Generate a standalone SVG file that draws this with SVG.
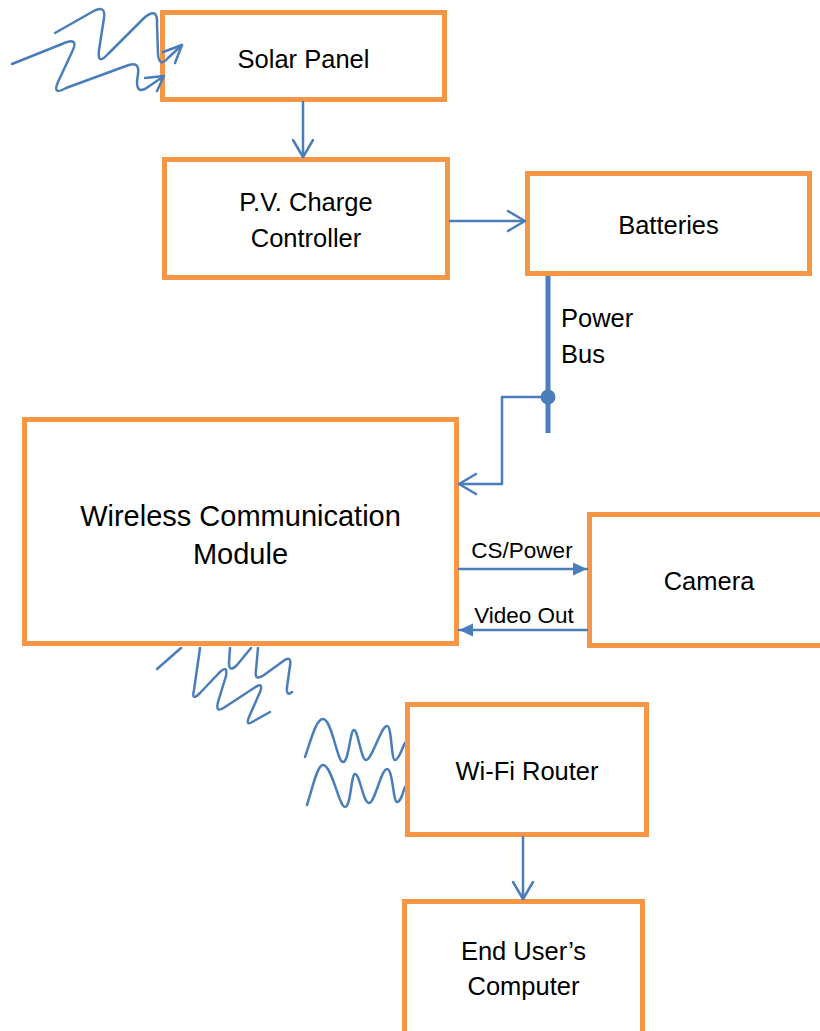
<svg xmlns="http://www.w3.org/2000/svg" width="820" height="1031" viewBox="0 0 820 1031">
  <defs>
    <style>
      .box { fill: #FFFFFF; stroke: #F79646; stroke-width: 5; }
      .lbl { font-family: "Liberation Sans", Arial, sans-serif; font-size: 25.5px; fill: #000000; text-anchor: middle; }
      .big { font-size: 29px; }
      .small { font-size: 22.5px; }
      .start { text-anchor: start; }
      .wire { fill: none; stroke: #4A7EBB; stroke-width: 2.5; stroke-linecap: round; stroke-linejoin: round; }
      .bus { fill: none; stroke: #4A7EBB; stroke-width: 5; }
    </style>
    <marker id="open" markerUnits="userSpaceOnUse" viewBox="-20 -12 22 24" refX="0" refY="0" markerWidth="22" markerHeight="24" orient="auto" overflow="visible">
      <path d="M-17,-10 L0,0 L-17,10" fill="none" stroke="#4A7EBB" stroke-width="2.5" stroke-linecap="round" stroke-linejoin="round"/>
    </marker>
    <marker id="solid" markerUnits="userSpaceOnUse" viewBox="-15 -8 16 16" refX="0" refY="0" markerWidth="16" markerHeight="16" orient="auto" overflow="visible">
      <path d="M-14,-6.5 L0,0 L-14,6.5 Z" fill="#4A7EBB"/>
    </marker>
  </defs>

  <!-- radio waves leaving the wireless module -->
  <g id="module-waves" class="wire">
    <path d="M157,669 L181,648"/>
    <path d="M200,648 L194,690 Q191,702 200,693 L219,673 Q228,664 226,676 L218,702 Q215,714 225,707 L254,688 Q264,681 260,692 L249,717 Q245,727 254,721 L270,712"/>
    <path d="M230,648 L229,663 Q229,673 237,665 L251,648"/>
    <path d="M258,648 L256,670 Q254,682 264,675 L282,662 Q292,654 290,666 L287,687 Q286,697 292,692"/>
  </g>

  <!-- radio waves arriving at the router -->
  <g id="router-waves" class="wire">
    <path d="M305,757 C311,740 316,719 323,719 C332,719 337,762 343,762 C349,762 350,730 354,730 C358,730 361,760 366,760 C372,760 381,726 387,726 C392,726 391,760 395,760 C399,760 402,748 405,743"/>
    <path d="M307,805 C312,790 317,765 323,765 C332,765 339,807 345,807 C351,807 351,774 355,774 C360,774 363,803 369,803 C375,803 381,769 387,769 C393,769 393,802 397,802 C401,802 403,792 405,787"/>
  </g>

  <g id="solar-panel">
    <rect class="box" x="162.5" y="12.5" width="282" height="87"/>
    <text class="lbl" x="303.5" y="68">Solar Panel</text>
  </g>

  <g id="charge-controller">
    <rect class="box" x="164.5" y="159.5" width="283" height="118"/>
    <text class="lbl" x="306" y="211">P.V. Charge</text>
    <text class="lbl" x="306" y="247">Controller</text>
  </g>

  <g id="batteries">
    <rect class="box" x="527.5" y="173.5" width="282" height="100"/>
    <text class="lbl" x="668.5" y="234">Batteries</text>
  </g>

  <g id="wireless-module">
    <rect class="box" x="24.5" y="419.5" width="432" height="224"/>
    <text class="lbl big" x="240.5" y="526">Wireless Communication</text>
    <text class="lbl big" x="240.5" y="564">Module</text>
  </g>

  <g id="camera">
    <rect class="box" x="589.5" y="514.5" width="240" height="131"/>
    <text class="lbl" x="709" y="590">Camera</text>
  </g>

  <g id="wifi-router">
    <rect class="box" x="407.5" y="704.5" width="239" height="130"/>
    <text class="lbl" x="527" y="780">Wi-Fi Router</text>
  </g>

  <g id="end-user-computer">
    <rect class="box" x="404.5" y="901.5" width="238" height="140"/>
    <text class="lbl" x="523.5" y="960">End User’s</text>
    <text class="lbl" x="523.5" y="995">Computer</text>
  </g>

  <!-- sunlight striking the panel -->
  <g id="sunlight" class="wire">
    <path d="M12,64 L62,44 Q80,36 72,52 L58,82 Q52,96 66,88 L126,66 Q140,60 138,74 L137,82 Q137,95 148,87 L164,76"/>
    <polyline points="145,78 164,76 157,91"/>
    <path d="M55,33 L92,12 Q106,4 104,18 L99,50 Q97,66 108,54 L144,18 Q158,6 157,24 L158,54 Q159,68 168,58 L182,45"/>
    <polyline points="163,52 182,45 175,63"/>
  </g>

  <g id="connectors">
    <line class="wire" x1="303" y1="102" x2="303" y2="157" marker-end="url(#open)"/>
    <line class="wire" x1="450" y1="221" x2="525" y2="221" marker-end="url(#open)"/>
    <line class="bus" x1="548" y1="276" x2="548" y2="433"/>
    <circle cx="548" cy="397" r="7.5" fill="#4A7EBB"/>
    <polyline class="wire" points="548,397 502,397 502,484 459,484" stroke-linecap="butt" marker-end="url(#open)"/>
    <line class="wire" x1="459" y1="569" x2="587" y2="569" stroke-linecap="butt" marker-end="url(#solid)"/>
    <line class="wire" x1="587" y1="630" x2="459" y2="630" stroke-linecap="butt" marker-end="url(#solid)"/>
    <line class="wire" x1="523" y1="837" x2="523" y2="899" marker-end="url(#open)"/>
  </g>

  <g id="connector-labels">
    <text class="lbl start" x="561" y="327">Power</text>
    <text class="lbl start" x="561" y="363">Bus</text>
    <text class="lbl small" x="522" y="558">CS/Power</text>
    <text class="lbl small" x="524" y="623">Video Out</text>
  </g>
</svg>
